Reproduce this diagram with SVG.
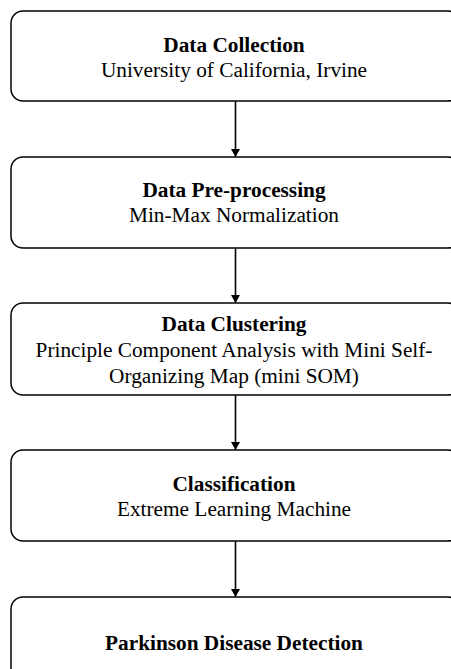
<svg xmlns="http://www.w3.org/2000/svg" width="451" height="669" viewBox="0 0 451 669">
<style>
.box{fill:#fff;stroke:#000;stroke-width:1.5}
.t{font-family:"Liberation Serif","Times New Roman",serif;font-size:21.3px;fill:#000;text-anchor:middle}
.b{font-weight:bold}
.c{stroke:#000;stroke-width:1.6;fill:none}
</style>
<defs>
<marker id="ah" viewBox="0 0 8 9" refX="8" refY="4.5" markerWidth="8" markerHeight="9" markerUnits="userSpaceOnUse" orient="auto">
<path d="M0,0 L8,4.5 L0,9 Z" fill="#000"/>
</marker>
</defs>
<rect width="451" height="669" fill="#fff"/>
<g id="connectors">
<line class="c" x1="235.5" y1="101" x2="235.5" y2="157" marker-end="url(#ah)"/>
<line class="c" x1="235.5" y1="248" x2="235.5" y2="303" marker-end="url(#ah)"/>
<line class="c" x1="235.5" y1="395" x2="235.5" y2="450" marker-end="url(#ah)"/>
<line class="c" x1="235.5" y1="541" x2="235.5" y2="597" marker-end="url(#ah)"/>
</g>
<g id="n1">
<rect class="box" x="11" y="11" width="449" height="90" rx="12"/>
<text class="t b" x="234" y="52">Data Collection</text>
<text class="t" x="234" y="77">University of California, Irvine</text>
</g>
<g id="n2">
<rect class="box" x="11" y="157" width="449" height="91" rx="12"/>
<text class="t b" x="234" y="197">Data Pre-processing</text>
<text class="t" x="234" y="222">Min-Max Normalization</text>
</g>
<g id="n3">
<rect class="box" x="11" y="303" width="449" height="92" rx="12"/>
<text class="t b" x="234" y="331">Data Clustering</text>
<text class="t" x="234" y="357">Principle Component Analysis with Mini Self-</text>
<text class="t" x="234" y="383">Organizing Map (mini SOM)</text>
</g>
<g id="n4">
<rect class="box" x="11" y="450" width="449" height="91" rx="12"/>
<text class="t b" x="234" y="491">Classification</text>
<text class="t" x="234" y="516">Extreme Learning Machine</text>
</g>
<g id="n5">
<rect class="box" x="11" y="597" width="449" height="100" rx="12"/>
<text class="t b" x="234" y="650">Parkinson Disease Detection</text>
</g>
</svg>
